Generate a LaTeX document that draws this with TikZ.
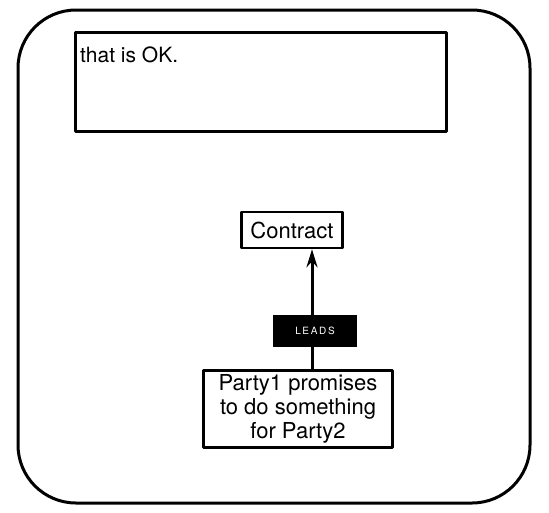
\documentclass[tikz,border=0pt]{standalone}
\usepackage{fontspec}
\setmainfont{TeX Gyre Heros}
\usetikzlibrary{positioning, arrows.meta}

\tikzset{
  box/.style={draw, line width=2.5pt, inner sep=2pt, align=center,
    font=\fontsize{22}{24}\selectfont},
  tag/.style={fill=black, text=white, inner sep=0pt, minimum width=84pt,
    minimum height=32pt, font=\fontsize{10}{11}\selectfont},
}

\begin{document}
\begin{tikzpicture}[>={Stealth[length=18pt, width=11pt]}, x=1pt, y=-1pt,
    line cap=round, line join=round]
  \useasboundingbox (0,0) rectangle (549,512);

  % Frame
  \draw[line width=3pt, rounded corners=58pt] (18,10) rectangle (530,503);

  % Note box
  \node[draw, line width=2.5pt, minimum width=371pt, minimum height=99pt,
        anchor=north west,
        label={[anchor=north west, xshift=6pt, yshift=-16pt,
                font=\fontsize{21}{23}\selectfont, inner sep=0pt]north west:that is OK.}]
    (note) at (74,31) {};

  % Concepts
  \node[box, minimum width=101pt, minimum height=36pt] (contract) at (292,230) {Contract};
  \node[box, minimum width=189pt, minimum height=77pt] (party) at (298,409)
    {Party1 promises\\to do something\\for Party2};

  % Relation
  \draw[->, line width=3pt] (party.north -| 312,0) -- (contract.south -| 312,0);
  \node[tag] (leads) at (315,331) {L\,E\,A\,D\,S};
\end{tikzpicture}
\end{document}
